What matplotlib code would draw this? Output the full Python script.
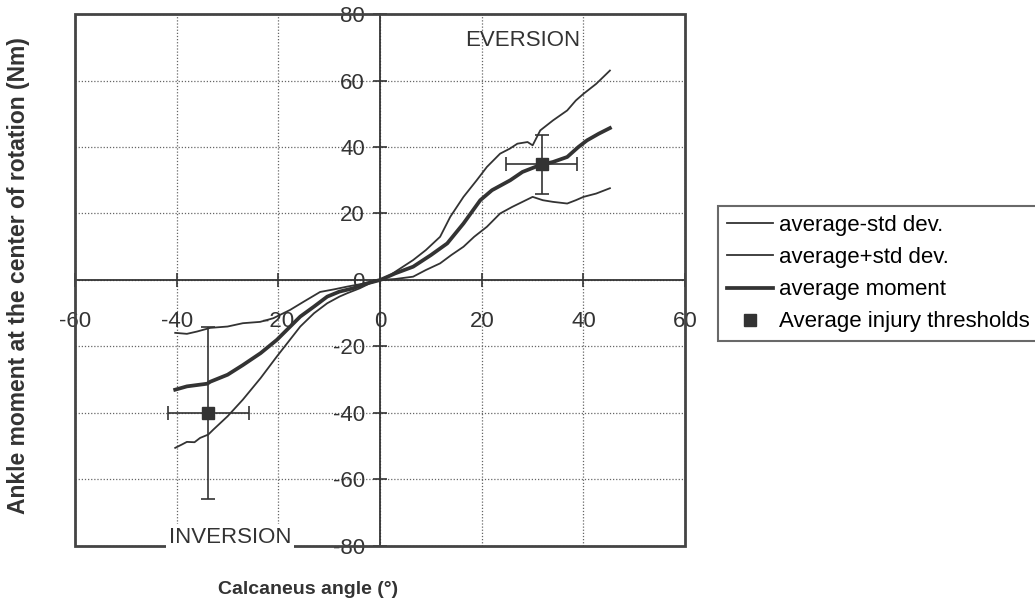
import numpy as np
import matplotlib
matplotlib.use("Agg")
import matplotlib.pyplot as plt
from matplotlib.patches import Rectangle

plt.rcParams['font.family'] = ['Liberation Sans', 'DejaVu Sans']
plt.rcParams['axes.unicode_minus'] = False

# curves (calcaneus angle in deg, moment in Nm)
x_plus = [-40.3, -39, -38, -36.5, -35.4, -33.8, -32.8, -30, -27, -23.5, -20.3, -18, -15.7, -13, -10.4,
          -8, -6.5, -4, -2, 0, 2, 4, 6.5, 9, 11.8, 13.8, 16.4, 19, 21, 23.6, 25.5, 27, 29, 30, 31.5,
          34, 36.8, 38.5, 40, 42.5, 45.2]
y_plus = [-50.5, -49.5, -48.7, -48.8, -47.5, -46.5, -45, -41, -36, -29.5, -23, -18.5, -14, -10, -7,
          -5, -4, -2.5, -1, 0, 1.5, 3.5, 6, 9, 13, 19, 25, 30, 34, 38, 39.5, 41, 41.5, 40.5, 45,
          48, 51, 54, 56, 59, 63]

x_avg = [-40.3, -38, -36, -34, -33.4, -30, -27, -23.5, -20.3, -18, -15.7, -13, -10.4, -8, -5.3, -3,
         0, 3, 6.5, 10, 13.2, 16.4, 19.7, 22, 25.6, 28, 31.5, 34, 36.8, 39, 40.7, 43, 45.2]
y_avg = [-33, -32, -31.6, -31.2, -30.6, -28.5, -25.6, -22, -18, -14.5, -11, -8, -5, -3.5, -2.5, -1.2,
         0, 2, 4, 7.5, 11, 17, 24, 27, 30, 32.5, 34.6, 35.5, 37, 40, 42, 44, 45.7]

x_minus = [-40.3, -38, -36, -33.4, -30, -27, -23.6, -21, -17.7, -15, -11.8, -9, -6.5, -3, 0, 3, 6.5,
           9, 11.8, 14, 16.4, 18.5, 21, 23.6, 26, 28, 30, 31, 32, 34, 36.8, 38.5, 40, 42.5, 45.2]
y_minus = [-15.9, -16.2, -15.5, -14.4, -14, -13, -12.6, -11.5, -9, -6.5, -3.6, -2.8, -2, -1, 0, 0.3, 1,
           3, 5, 7.5, 10, 13, 16, 20, 22, 23.5, 25, 24.5, 24, 23.5, 23, 24, 25, 26, 27.6]

# injury thresholds (mean and std)
thr_x = [-33.8, 31.8]
thr_y = [-40, 34.8]
thr_xerr = [8, 7]
thr_yerr = [26, 8.8]

ticks = [-60, -40, -20, 0, 20, 40, 60]
yticks = [-80, -60, -40, -20, 0, 20, 40, 60, 80]

dark = '#333333'

fig = plt.figure(figsize=(10.35, 6.1), dpi=100)
ax = fig.add_axes([0.0725, 0.105, 0.5895, 0.872])

ax.plot(x_minus, y_minus, color=dark, lw=1.3, label='average-std dev.', zorder=3)
ax.plot(x_plus, y_plus, color=dark, lw=1.3, label='average+std dev.', zorder=3)
ax.plot(x_avg, y_avg, color=dark, lw=2.7, label='average moment', zorder=3)
ax.errorbar(thr_x, thr_y, xerr=thr_xerr, yerr=thr_yerr, fmt='none', ecolor=dark,
            elinewidth=1.2, capsize=5, capthick=1.2, zorder=4)
ax.plot(thr_x, thr_y, 's', color=dark, ms=8, ls='none', label='Average injury thresholds', zorder=5)

ax.set_xlim(-60, 60)
ax.set_ylim(-80, 80)
ax.set_xticks(ticks)
ax.set_yticks(yticks)
ax.grid(True, color='#666666', ls=(0, (1, 1.5)), lw=0.9)

ax.spines['left'].set_position(('data', 0))
ax.spines['bottom'].set_position(('data', 0))
ax.spines['right'].set_visible(False)
ax.spines['top'].set_visible(False)
for s in ['left', 'bottom']:
    ax.spines[s].set_color(dark)
    ax.spines[s].set_linewidth(1.3)
ax.tick_params(axis='both', direction='inout', length=10, width=1.2, color=dark,
               labelsize=16, labelcolor=dark)
ax.tick_params(axis='x', pad=17)
ax.tick_params(axis='y', pad=6)

frame = Rectangle((0, 0), 1, 1, transform=ax.transAxes, fill=False, ec='#444444', lw=2,
                  clip_on=False, zorder=6)
ax.add_patch(frame)

ax.text(28, 72, 'EVERSION', fontsize=16, color=dark, ha='center', va='center')
ax.text(-29.5, -77.5, 'INVERSION', fontsize=16, color=dark, ha='center', va='center', zorder=7,
        bbox=dict(facecolor='white', edgecolor='none', pad=2))

fig.text(0.018, 0.548, 'Ankle moment at the center of rotation (Nm)', rotation=90, fontsize=16.5,
         fontweight='bold', color=dark, ha='center', va='center')
fig.text(0.298, 0.033, 'Calcaneus angle (°)', fontsize=14, fontweight='bold', color=dark,
         ha='center', va='center')

leg = fig.legend(loc='upper left', bbox_to_anchor=(0.694, 0.662), fontsize=16, frameon=True,
                 fancybox=False, edgecolor='#444444', handlelength=2.05, handletextpad=0.28,
                 borderpad=0.4, labelspacing=0.5, borderaxespad=0)
leg.get_frame().set_linewidth(1.5)

fig.savefig('out.png', dpi=100)
